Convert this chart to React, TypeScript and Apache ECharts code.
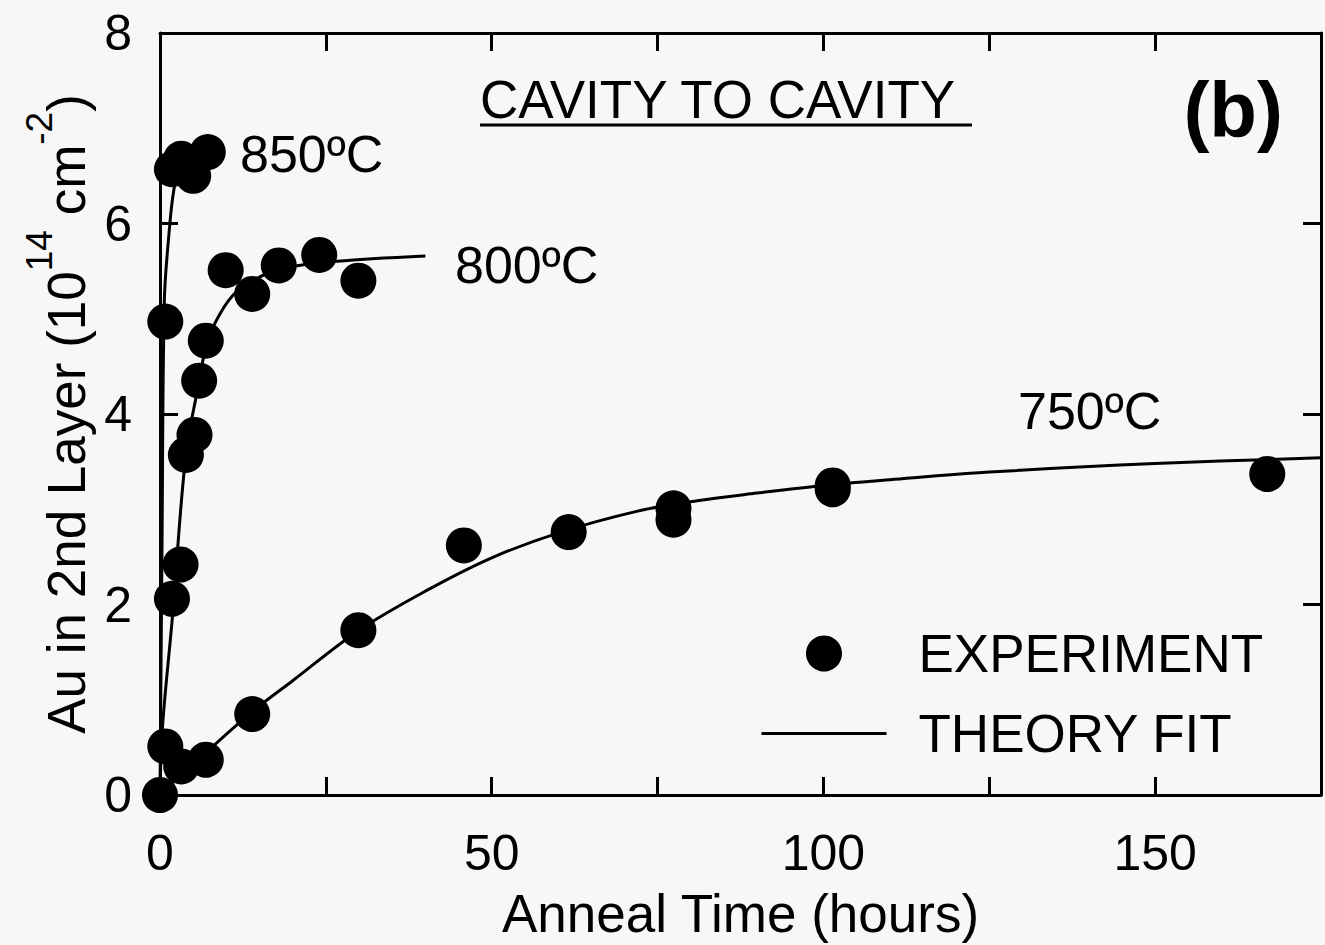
import React, { useEffect, useRef } from "react";
import * as echarts from "echarts";

const FONT = '"Liberation Sans", Arial, Helvetica, sans-serif';

// Axis ranges / ticks
const X_MIN = 0;
const X_MAX = 175;
const X_TICK = 25;
const X_LABEL_STEP = 50;
const Y_MIN = 0;
const Y_MAX = 8;
const Y_TICK = 2;

// Experimental points [anneal time (h), Au in 2nd layer (1e14 cm^-2)]
const exp850 = [[0.8, 4.97], [1.8, 6.57], [3.2, 6.68], [5.0, 6.5], [7.2, 6.75]];
const exp800 = [
  [0, 0], [0.8, 0.51], [1.8, 2.06], [3.1, 2.42], [3.9, 3.57], [5.2, 3.78], [5.9, 4.35],
  [6.9, 4.77], [9.9, 5.51], [13.9, 5.26], [17.9, 5.56], [24.0, 5.67], [29.9, 5.4],
];
const exp750 = [
  [3.2, 0.3], [6.9, 0.37], [13.9, 0.85], [29.9, 1.73], [45.8, 2.62], [61.6, 2.76],
  [77.4, 3.01], [77.4, 2.89], [101.4, 3.25], [101.4, 3.21], [166.9, 3.37],
];

// Theory fit curves
const fit850 = [[0, 0], [0.3, 2.6], [0.65, 5.18], [1.3, 5.85], [2.1, 6.36], [3, 6.55], [5, 6.66], [7, 6.72], [9.5, 6.75]];
const fit800 = [
  [0, 0], [0.35, 0.69], [1.9, 1.89], [3.9, 3.57], [5.9, 4.34], [6.9, 4.7], [8.4, 4.97],
  [10.9, 5.24], [14, 5.4], [18, 5.52], [26, 5.6], [40, 5.66],
];
const fit750 = [
  [0, 0], [3, 0.2], [7, 0.45], [14, 0.88], [20, 1.2], [30, 1.73], [40, 2.14],
  [50, 2.49], [60, 2.75], [72, 2.98], [81, 3.09], [90, 3.17], [100, 3.25],
  [110, 3.31], [125, 3.39], [150, 3.48], [175, 3.54],
];

const curveLabels = [
  { text: "850ºC", x: 240, y: 154 },
  { text: "800ºC", x: 455, y: 265 },
  { text: "750ºC", x: 1018, y: 411 },
];

export default function App() {
  const ref = useRef<HTMLDivElement>(null);

  useEffect(() => {
    if (!ref.current) return;
    const chart = echarts.init(ref.current, null, { renderer: "svg" });

    const axisLine = { show: true, onZero: false, lineStyle: { color: "#000", width: 3 } };
    const axisTick = { show: true, inside: true, length: 18, lineStyle: { color: "#000", width: 3 } };

    const lineSeries = (data: number[][]) => ({
      type: "line",
      name: "THEORY FIT",
      data,
      symbol: "none",
      showSymbol: false,
      smooth: 0.35,
      lineStyle: { color: "#000", width: 3 },
      itemStyle: { color: "#000" },
      z: 2,
    });
    const scatterSeries = (data: number[][]) => ({
      type: "scatter",
      name: "EXPERIMENT",
      data,
      symbol: "circle",
      symbolSize: 36,
      itemStyle: { color: "#000", opacity: 1 },
      z: 3,
    });

    const option: any = {
      animation: false,
      backgroundColor: "#f7f7f7",
      grid: { left: 160, right: 4, top: 33, bottom: 146 },
      xAxis: [
        {
          type: "value",
          position: "bottom",
          min: X_MIN,
          max: X_MAX,
          interval: X_TICK,
          axisLine,
          axisTick,
          splitLine: { show: false },
          axisLabel: {
            formatter: (v: number) => (v % X_LABEL_STEP === 0 ? String(v) : ""),
            fontSize: 50,
            fontFamily: FONT,
            color: "#000",
            margin: 33,
            showMinLabel: true,
          },
          name: "Anneal Time (hours)",
          nameLocation: "middle",
          nameGap: 92,
          nameTextStyle: { fontSize: 53, fontFamily: FONT, color: "#000" },
        },
        {
          type: "value",
          position: "top",
          min: X_MIN,
          max: X_MAX,
          interval: X_TICK,
          axisLine,
          axisTick,
          splitLine: { show: false },
          axisLabel: { show: false },
        },
      ],
      yAxis: [
        {
          type: "value",
          position: "left",
          min: Y_MIN,
          max: Y_MAX,
          interval: Y_TICK,
          axisLine,
          axisTick,
          splitLine: { show: false },
          axisLabel: { fontSize: 50, fontFamily: FONT, color: "#000", margin: 28, showMinLabel: true },
          name: "{m|Au in 2nd Layer (10}{s|14}{m| cm}{s|-2}{m|)}",
          nameLocation: "middle",
          nameGap: 50,
          nameTextStyle: {
            fontFamily: FONT,
            color: "#000",
            rich: {
              m: { fontSize: 53, lineHeight: 72, verticalAlign: "bottom", fontFamily: FONT, color: "#000" },
              s: { fontSize: 37, lineHeight: 37, verticalAlign: "top", fontFamily: FONT, color: "#000" },
            },
          },
        },
        {
          type: "value",
          position: "right",
          min: Y_MIN,
          max: Y_MAX,
          interval: Y_TICK,
          axisLine,
          axisTick,
          splitLine: { show: false },
          axisLabel: { show: false },
        },
      ],
      legend: {
        data: [
          { name: "EXPERIMENT", icon: "circle", itemStyle: { color: "#000", opacity: 1 } },
          { name: "THEORY FIT", itemStyle: { color: "rgba(0,0,0,0)", borderWidth: 0, opacity: 0 } },
        ],
        orient: "vertical",
        left: 755,
        top: 622,
        itemWidth: 125,
        itemHeight: 36,
        itemGap: 27,
        selectedMode: false,
        lineStyle: { width: 3, color: "#000" },
        textStyle: { fontSize: 53, fontFamily: FONT, color: "#000", lineHeight: 50, padding: [0, 0, 0, 27] },
      },
      series: [
        lineSeries(fit850),
        lineSeries(fit800),
        lineSeries(fit750),
        scatterSeries(exp850),
        scatterSeries(exp800),
        scatterSeries(exp750),
      ],
      graphic: [
        {
          type: "text",
          x: 480,
          y: 99,
          style: { text: "CAVITY TO CAVITY", fontSize: 53, fontFamily: FONT, fill: "#000", verticalAlign: "middle", align: "left" },
        },
        {
          type: "line",
          shape: { x1: 480, y1: 125, x2: 972, y2: 125 },
          style: { stroke: "#000", lineWidth: 3 },
        },
        {
          type: "text",
          x: 1283,
          y: 110,
          style: { text: "(b)", fontSize: 78, fontWeight: "bold", fontFamily: FONT, fill: "#000", verticalAlign: "middle", align: "right" },
        },
        ...curveLabels.map((l) => ({
          type: "text",
          x: l.x,
          y: l.y,
          style: { text: l.text, fontSize: 52, fontFamily: FONT, fill: "#000", verticalAlign: "middle", align: "left" },
        })),
      ],
    };

    chart.setOption(option);
    return () => chart.dispose();
  }, []);

  return (
    <div
      ref={ref}
      style={{ position: "absolute", left: 0, top: 0, width: 1325, height: 945 }}
    />
  );
}
